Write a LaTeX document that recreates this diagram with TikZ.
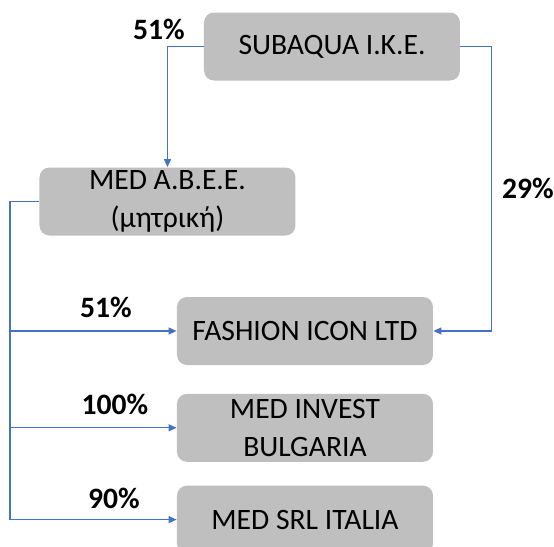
\documentclass[tikz,border=0pt]{standalone}
\usepackage{fontspec}
\setmainfont{Carlito}
\definecolor{BoxGray}{RGB}{191, 191, 191}
\definecolor{LinkBlue}{RGB}{68, 114, 196}
\usetikzlibrary{arrows.meta, positioning}

\begin{document}
\begin{tikzpicture}[x=0.5pt, y=-0.5pt, every node/.style={font=\fontsize{14.8}{19}\selectfont},
    company/.style={rectangle, rounded corners=5pt, fill=BoxGray, minimum width=128pt, minimum height=34pt, align=center, inner sep=0.5pt},
    share/.style={font=\fontsize{14.8}{19}\selectfont\bfseries},
    link/.style={-{Triangle[length=4pt, width=3.5pt]}, LinkBlue, line width=0.6pt}]
            \clip (0,0) rectangle (554,547);
            \node[company] (sub) at (332,46.5) {SUBAQUA I.K.E.};
            \node[company] (med) at (167.5,201.5) {MED A.B.E.E.\\(μητρική)};
            \node[company] (fash) at (305,331) {FASHION ICON LTD};
            \node[company, below=14pt of fash] (inv) {MED INVEST\\BULGARIA};
            \node[company, below=11.5pt of inv] (srl) {MED SRL ITALIA};

            \draw[link] (sub.west) -| (med.north);
            \draw[link] (sub.east) -- ++(31,0) |- (fash.east);
            \draw[link] (med.west) -- ++(-29,0) coordinate (trunk) |- (fash.west);
            \draw[link] (trunk) |- (inv.west);
            \draw[link] (trunk) |- (srl.west);

            \node[share] (pctmed) at (159,29) {51\%};
            \node[share] (pctsub) at (528,188) {29\%};
            \node[share] (pctfash) at (106,307) {51\%};
            \node[share] (pctinv) at (115,404) {100\%};
            \node[share] (pctsrl) at (114,498) {90\%};
        \end{tikzpicture}
\end{document}
